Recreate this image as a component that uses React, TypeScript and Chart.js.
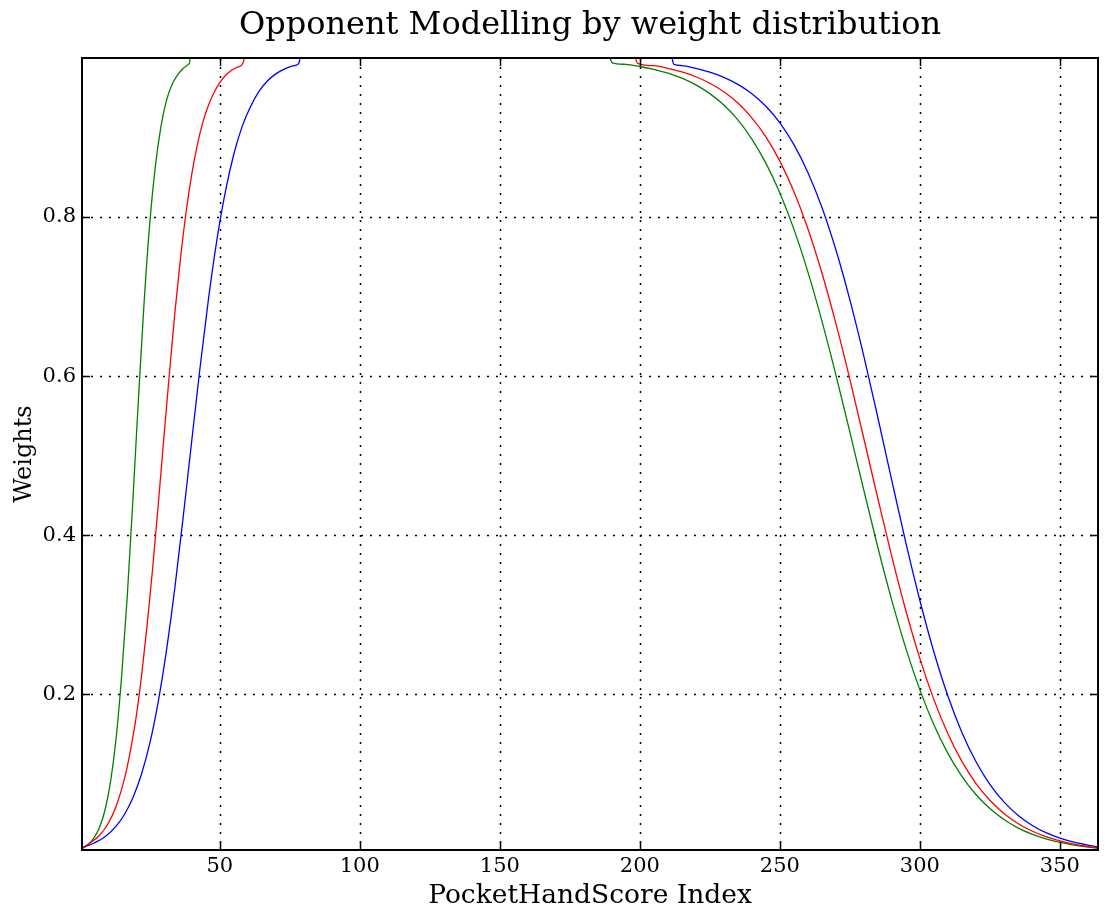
import React, { useEffect, useRef } from "react";
import { Chart, registerables } from "chart.js";

Chart.register(...registerables);

const TITLE = "Opponent Modelling by weight distribution";
const X_LABEL = "PocketHandScore Index";
const Y_LABEL = "Weights";

const X_MIN = 0.8;
const X_MAX = 363.6;
const Y_MIN = 0.004;
const Y_MAX = 1.0;

const X_TICKS = [50, 100, 150, 200, 250, 300, 350];
const Y_TICKS = [0.2, 0.4, 0.6, 0.8];

// [PocketHandScore index, weight]
const greenRise: [number, number][] = [
  [1, 0.006], [3, 0.011], [5, 0.019], [7, 0.032], [9, 0.054], [11, 0.09], [13, 0.145],
  [15, 0.225], [17, 0.325], [19, 0.446], [21, 0.574], [23, 0.694], [25, 0.792], [27, 0.864],
  [29, 0.914], [31, 0.947], [33, 0.967], [35, 0.979], [37, 0.987], [38.8, 0.992],
  [39.2, 0.994], [39.4, 1.0],
];
const greenFall: [number, number][] = [
  [189.3, 1.0], [190.2, 0.994], [195, 0.992], [200, 0.9893], [205, 0.9857], [210, 0.9809],
  [215, 0.9746], [220, 0.9662], [225, 0.9552], [230, 0.9408], [235, 0.9221], [240, 0.8981],
  [245, 0.8678], [250, 0.8303], [255, 0.7848], [260, 0.7311], [265, 0.6695], [270, 0.6016],
  [275, 0.5295], [280, 0.4561], [285, 0.3844], [290, 0.3176], [295, 0.2575], [300, 0.2054],
  [305, 0.1615], [310, 0.1255], [315, 0.0967], [320, 0.0738], [325, 0.0561], [330, 0.0424],
  [335, 0.0319], [340, 0.024], [345, 0.018], [350, 0.0135], [355, 0.0101], [360, 0.0075],
  [363.6, 0.0061],
];

const redRise: [number, number][] = [
  [1, 0.007], [4, 0.0135], [7, 0.0223], [10, 0.0364], [13, 0.059], [16, 0.094], [18, 0.127],
  [20, 0.168], [22, 0.221], [24, 0.285], [26, 0.357], [28, 0.437], [30, 0.521], [32, 0.603],
  [34, 0.681], [36, 0.749], [38, 0.807], [40, 0.854], [42, 0.891], [44, 0.92], [46, 0.941],
  [48, 0.957], [50, 0.969], [52, 0.978], [54, 0.984], [56, 0.988], [57.8, 0.991],
  [58.3, 0.994], [58.8, 1.0],
];
const redFall: [number, number][] = [
  [198.4, 1.0], [199.2, 0.9932], [205, 0.9903], [210, 0.987], [215, 0.9824], [220, 0.9764],
  [225, 0.9683], [230, 0.9575], [235, 0.9433], [240, 0.9248], [245, 0.9008], [250, 0.8703],
  [255, 0.832], [260, 0.7853], [265, 0.7299], [270, 0.6662], [275, 0.5958], [280, 0.5212],
  [285, 0.4457], [290, 0.3726], [295, 0.3049], [300, 0.2447], [305, 0.1931], [310, 0.1502],
  [315, 0.1155], [320, 0.0879], [325, 0.0665], [330, 0.05], [335, 0.0374], [340, 0.0279],
  [345, 0.0207], [350, 0.0154], [355, 0.0114], [360, 0.0085], [363.6, 0.0068],
];

const blueRise: [number, number][] = [
  [1, 0.007], [5, 0.0125], [9, 0.0206], [13, 0.034], [16, 0.049], [19, 0.07], [22, 0.099],
  [25, 0.138], [28, 0.19], [31, 0.256], [34, 0.335], [37, 0.425], [40, 0.519], [43, 0.612],
  [46, 0.698], [49, 0.772], [52, 0.832], [55, 0.879], [58, 0.914], [61, 0.939], [64, 0.958],
  [67, 0.971], [70, 0.98], [73, 0.986], [76, 0.99], [77.9, 0.992], [78.3, 0.994], [78.7, 1.0],
];
const blueFall: [number, number][] = [
  [211.5, 1.0], [212.1, 0.9921], [215, 0.9905], [220, 0.987], [225, 0.9822], [230, 0.9757],
  [235, 0.9669], [240, 0.9551], [245, 0.9393], [250, 0.9184], [255, 0.8911], [260, 0.8561],
  [265, 0.8123], [270, 0.7588], [275, 0.6959], [280, 0.6248], [285, 0.5476], [290, 0.4682],
  [295, 0.3903], [300, 0.3178], [305, 0.253], [310, 0.1977], [315, 0.1519], [320, 0.1153],
  [325, 0.0865], [330, 0.0645], [335, 0.0477], [340, 0.0352], [345, 0.0258], [350, 0.0189],
  [355, 0.0138], [360, 0.0101], [363.6, 0.008],
];

const GREEN = "#008000";
const RED = "#ff0000";
const BLUE = "#0000ff";
const FONT = "'DejaVu Serif', serif";

export default function App() {
  const ref = useRef<HTMLCanvasElement>(null);

  useEffect(() => {
    document.body.style.margin = "0";
    const canvas = ref.current;
    if (!canvas) return;

    const pts = (arr: [number, number][]) => arr.map(([x, y]) => ({ x, y }));
    const ds = (label: string, arr: [number, number][], color: string) => ({
      label,
      data: pts(arr),
      borderColor: color,
      backgroundColor: color,
      borderWidth: 1.3,
      pointRadius: 0,
      fill: false,
      cubicInterpolationMode: "monotone" as const,
    });

    const axesPlugin = {
      id: "mplAxes",
      beforeDatasetsDraw(chart: any) {
        const { ctx, chartArea: a, scales } = chart;
        ctx.save();
        ctx.strokeStyle = "#000";
        ctx.lineWidth = 1.5;
        ctx.setLineDash([2, 7]);
        for (const v of X_TICKS) {
          const px = Math.round(scales.x.getPixelForValue(v)) + 0.5;
          ctx.beginPath();
          ctx.moveTo(px, a.top);
          ctx.lineTo(px, a.bottom);
          ctx.stroke();
        }
        for (const v of Y_TICKS) {
          const py = Math.round(scales.y.getPixelForValue(v)) + 0.5;
          ctx.beginPath();
          ctx.moveTo(a.left, py);
          ctx.lineTo(a.right, py);
          ctx.stroke();
        }
        ctx.restore();
      },
      afterDatasetsDraw(chart: any) {
        const { ctx, chartArea: a, scales } = chart;
        ctx.save();
        ctx.strokeStyle = "#000";
        ctx.setLineDash([]);
        ctx.lineWidth = 1.5;
        const tl = 8;
        for (const v of X_TICKS) {
          const px = Math.round(scales.x.getPixelForValue(v)) + 0.5;
          ctx.beginPath();
          ctx.moveTo(px, a.bottom);
          ctx.lineTo(px, a.bottom - tl);
          ctx.moveTo(px, a.top);
          ctx.lineTo(px, a.top + tl);
          ctx.stroke();
        }
        for (const v of Y_TICKS) {
          const py = Math.round(scales.y.getPixelForValue(v)) + 0.5;
          ctx.beginPath();
          ctx.moveTo(a.left, py);
          ctx.lineTo(a.left + tl, py);
          ctx.moveTo(a.right, py);
          ctx.lineTo(a.right - tl, py);
          ctx.stroke();
        }
        ctx.lineWidth = 2;
        ctx.strokeRect(a.left, a.top, a.right - a.left, a.bottom - a.top);
        ctx.restore();
      },
    };

    const chart = new Chart(canvas, {
      type: "line",
      data: {
        datasets: [
          ds("red rise", redRise, RED),
          ds("red fall", redFall, RED),
          ds("blue rise", blueRise, BLUE),
          ds("blue fall", blueFall, BLUE),
          ds("green rise", greenRise, GREEN),
          ds("green fall", greenFall, GREEN),
        ],
      },
      options: {
        animation: false,
        responsive: false,
        devicePixelRatio: 1,
        layout: { padding: { left: 0, right: 7, top: 0, bottom: 0 } },
        plugins: {
          legend: { display: false },
          tooltip: { enabled: false },
          title: {
            display: true,
            fullSize: false,
            text: TITLE,
            color: "#000",
            font: { family: FONT, size: 32, weight: "normal", lineHeight: 1.2 },
            padding: { top: 6, bottom: 13.6 },
          },
        },
        scales: {
          x: {
            type: "linear",
            min: X_MIN,
            max: X_MAX,
            grid: { display: false, drawTicks: false },
            border: { display: false },
            ticks: {
              color: "#000",
              font: { family: FONT, size: 21 },
              padding: 4,
              maxRotation: 0,
              autoSkip: false,
              callback: (v: any) => String(v),
            },
            afterBuildTicks: (s: any) => {
              s.ticks = X_TICKS.map((value) => ({ value }));
            },
            afterFit: (s: any) => {
              s.height = 65;
            },
            title: {
              display: true,
              text: X_LABEL,
              color: "#000",
              font: { family: FONT, size: 26.5 },
              padding: { top: 0, bottom: 3 },
            },
          },
          y: {
            type: "linear",
            min: Y_MIN,
            max: Y_MAX,
            grid: { display: false, drawTicks: false },
            border: { display: false },
            ticks: {
              color: "#000",
              font: { family: FONT, size: 21 },
              padding: 6,
              autoSkip: false,
              callback: (v: any) => Number(v).toFixed(1),
            },
            afterBuildTicks: (s: any) => {
              s.ticks = Y_TICKS.map((value) => ({ value }));
            },
            afterFit: (s: any) => {
              s.width = 82;
            },
            title: {
              display: true,
              text: Y_LABEL,
              color: "#000",
              font: { family: FONT, size: 24 },
              padding: { top: 10, bottom: 0 },
            },
          },
        },
      },
      plugins: [axesPlugin],
    } as any);

    return () => chart.destroy();
  }, []);

  return (
    <div style={{ position: "absolute", left: 0, top: 0, width: 1105, height: 915, background: "#fff" }}>
      <canvas ref={ref} width={1105} height={915} style={{ display: "block", width: 1105, height: 915 }} />
    </div>
  );
}
